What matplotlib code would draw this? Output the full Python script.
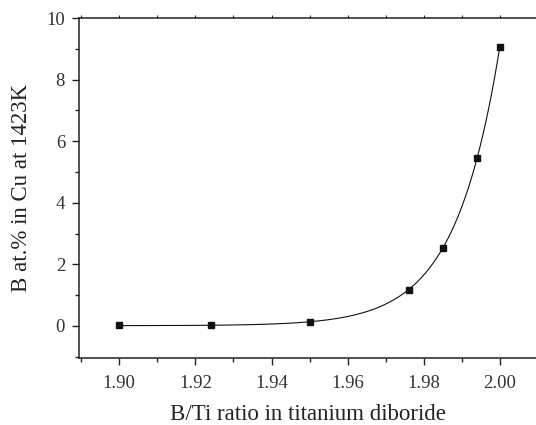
import numpy as np
import matplotlib
matplotlib.use("Agg")
import matplotlib.pyplot as plt
from matplotlib.ticker import MultipleLocator

# B/Ti ratio vs B solubility in Cu at 1423 K
ratio = [1.900, 1.924, 1.950, 1.976, 1.985, 1.994, 2.000]
b_at = [0.02, 0.03, 0.12, 1.18, 2.53, 5.45, 9.07]

x_ticks = [1.90, 1.92, 1.94, 1.96, 1.98, 2.00]
x_labels = ["1.90", "1.92", "1.94", "1.96", "1.98", "2.00"]
y_ticks = [0, 2, 4, 6, 8, 10]

plt.rcParams['font.family'] = ['Liberation Serif', 'DejaVu Serif']

fig = plt.figure(figsize=(5.36, 4.25), dpi=100)
ax = fig.add_axes([0.1474, 0.1576, 0.8526, 0.80])

# exponential growth fit y = y0 + A*exp((x-2)/t), grid search on t
xd = np.array(ratio)
yd = np.array(b_at)
best = None
for t in np.linspace(0.002, 0.03, 600):
    M = np.column_stack([np.ones_like(xd), np.exp((xd - 2.0) / t)])
    coef, res, _, _ = np.linalg.lstsq(M, yd, rcond=None)
    err = np.sum((M @ coef - yd) ** 2)
    if best is None or err < best[0]:
        best = (err, t, coef)
_, t, coef = best
xs = np.linspace(ratio[0], ratio[-1], 400)
ys = coef[0] + coef[1] * np.exp((xs - 2.0) / t)

ax.plot(xs, ys, color='#111111', lw=0.8)
ax.plot(ratio, b_at, 's', color='#111111', ms=4.2, mec='#111111')

ax.set_xlim(1.8894, 2.0095)
ax.set_ylim(-1.04, 10)

ax.set_xticks(x_ticks)
ax.set_xticklabels(x_labels)
ax.set_yticks(y_ticks)
ax.xaxis.set_minor_locator(MultipleLocator(0.01))
ax.yaxis.set_minor_locator(MultipleLocator(1))

for s in ['left', 'bottom', 'top']:
    ax.spines[s].set_linewidth(1.1)
    ax.spines[s].set_color('#222222')
ax.spines['right'].set_visible(False)

ax.tick_params(axis='both', which='major', direction='out', length=5,
               width=1.0, labelsize=13.5, color='#222222', labelcolor='#333333')
ax.tick_params(axis='both', which='minor', direction='out', length=3,
               width=1.0, color='#222222')
ax.tick_params(axis='x', which='major', pad=7)
ax.tick_params(axis='y', which='major', pad=5)

# small outward ticks on the top spine
sec = ax.secondary_xaxis('top')
sec.set_xticks(x_ticks)
sec.xaxis.set_minor_locator(MultipleLocator(0.01))
sec.tick_params(which='both', direction='out', length=2, width=0.8,
                color='#222222', labeltop=False)
sec.spines['top'].set_visible(False)

ax.set_xlabel("B/Ti ratio in titanium diboride", fontsize=16.5, color='#222222', labelpad=9)
ax.set_ylabel("B at.% in Cu at 1423K", fontsize=16.5, color='#222222', labelpad=10)

fig.savefig("out.png", dpi=100)
